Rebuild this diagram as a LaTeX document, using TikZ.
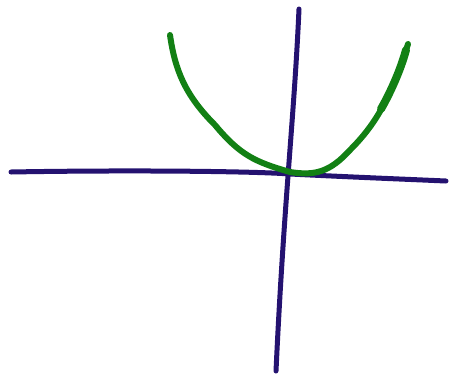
\documentclass[tikz,border=0pt]{standalone}
\usetikzlibrary{positioning}

\definecolor{axisblue}{RGB}{36,18,112}
\definecolor{curvegreen}{RGB}{18,128,20}

\begin{document}
\begin{tikzpicture}[
  x=1pt, y=-1pt,
  axis/.style={draw=axisblue, line width=5pt, line cap=round, line join=round},
  curve/.style={draw=curvegreen, line width=6pt, line cap=round, line join=round}
]
  \useasboundingbox (0,0) rectangle (449,376);

  % axes
  \coordinate (xleft) at (11,172);
  \coordinate (xright) at (446,181);
  \coordinate (ytop) at (299,9);
  \coordinate (ybottom) at (276,371);
  \draw[axis] (xleft) .. controls (120,170) and (250,171) .. (290,174)
    .. controls (350,177) and (400,179) .. (xright);
  \draw[axis] (ytop) .. controls (294,120) and (284,200) .. (ybottom);

  % parabola
  \draw[curve] (170,35) .. controls (175,70) and (185,95) .. (215,125)
    .. controls (240,155) and (255,162) .. (290,172)
    .. controls (315,176) and (330,172) .. (350,150)
    .. controls (375,125) and (390,100) .. (408,44);
  \draw[curve, line width=8pt] (381,109) .. controls (389,95) and (400,72) .. (406,50);
\end{tikzpicture}
\end{document}
